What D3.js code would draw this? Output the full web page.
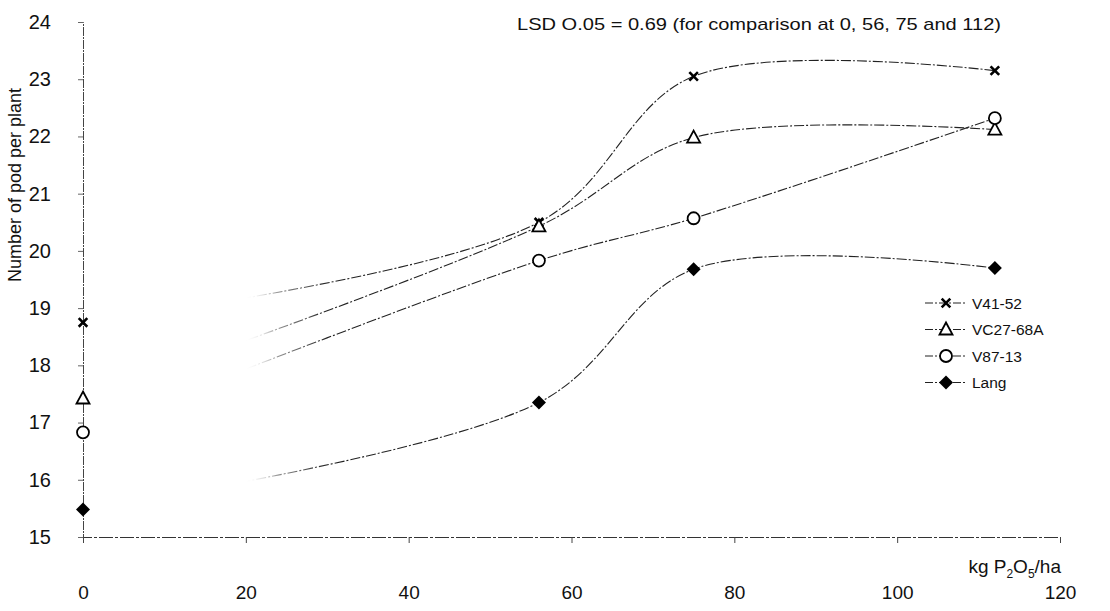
<!DOCTYPE html>
<html>
<head>
<meta charset="utf-8">
<script src="https://cdn.jsdelivr.net/npm/d3@7"></script>
<style>
  body { margin: 0; background: #fff; }
  svg { font-family: "Liberation Sans", Arial, sans-serif; }
</style>
</head>
<body>
<script>
// P rates (kg P2O5/ha) where the varieties were measured
var rates = [0, 56, 75, 112];

// number of pods per plant
var v4152 = [18.75, 20.5, 23.05, 23.15];
var vc2768a = [17.42, 20.43, 21.98, 22.12];
var v8713 = [16.83, 19.83, 20.57, 22.32];
var lang = [15.48, 17.35, 19.68, 19.7];

var seriesNames = ["V41-52", "VC27-68A", "V87-13", "Lang"];
var seriesSymbols = ["x", "triangle", "circle", "diamond"];

var xTicks = [0, 20, 40, 60, 80, 100, 120];
var yTicks = [15, 16, 17, 18, 19, 20, 21, 22, 23, 24];

var width = 1110, height = 611;

var x = d3.scaleLinear().domain([0, 120]).range([83, 1060]);
var y = d3.scaleLinear().domain([15, 24]).range([537, 22]);

var svg = d3.select("body").append("svg")
    .attr("width", width)
    .attr("height", height);

// lines fade out towards the y axis like on the scanned page
var defs = svg.append("defs");
var grad = defs.append("linearGradient")
    .attr("id", "fade")
    .attr("gradientUnits", "userSpaceOnUse")
    .attr("x1", x(0)).attr("x2", x(30))
    .attr("y1", 0).attr("y2", 0);
grad.append("stop").attr("offset", "0").attr("stop-color", "#fff").attr("stop-opacity", 0);
grad.append("stop").attr("offset", "0.66").attr("stop-color", "#fff").attr("stop-opacity", 0);
grad.append("stop").attr("offset", "0.8").attr("stop-color", "#444").attr("stop-opacity", 0.6);
grad.append("stop").attr("offset", "1").attr("stop-color", "#222").attr("stop-opacity", 1);

// y axis
var yAxis = d3.axisLeft(y).tickValues(yTicks).tickSize(5).tickPadding(27);
var gy = svg.append("g").attr("transform", "translate(" + x(0) + ",0)").call(yAxis);
gy.select(".domain").attr("stroke", "#444").attr("stroke-dasharray", "9,1,2,1");
gy.selectAll(".tick line").attr("stroke", "#666");
gy.selectAll(".tick text").attr("font-size", 20).attr("fill", "#111")
    .attr("font-family", "'Liberation Sans', Arial, sans-serif");

// x axis
var xAxis = d3.axisBottom(x).tickValues(xTicks).tickSize(6).tickPadding(43);
var gx = svg.append("g").attr("transform", "translate(0," + y(15) + ")").call(xAxis);
gx.select(".domain").attr("stroke", "#333").attr("stroke-dasharray", "14,2,3,2");
gx.selectAll(".tick line").attr("stroke", "#444");
gx.selectAll(".tick text").attr("font-size", 19).attr("fill", "#111")
    .attr("font-family", "'Liberation Sans', Arial, sans-serif");

// axis titles
svg.append("text")
    .attr("transform", "translate(21,185) rotate(-90)")
    .attr("text-anchor", "middle")
    .attr("font-size", 18)
    .attr("fill", "#111")
    .text("Number of pod per plant");

var xt = svg.append("text")
    .attr("x", 1061).attr("y", 573)
    .attr("text-anchor", "end")
    .attr("font-size", 19)
    .attr("fill", "#111");
xt.append("tspan").text("kg P");
xt.append("tspan").attr("font-size", 12).attr("dy", 5).text("2");
xt.append("tspan").attr("dy", -5).text("O");
xt.append("tspan").attr("font-size", 12).attr("dy", 5).text("5");
xt.append("tspan").attr("dy", -5).text("/ha");

svg.append("text")
    .attr("x", 517).attr("y", 30)
    .attr("font-size", 17)
    .attr("textLength", 484)
    .attr("lengthAdjust", "spacingAndGlyphs")
    .attr("fill", "#111")
    .text("LSD O.05 = 0.69 (for comparison at 0, 56, 75 and 112)");

var data = [v4152, vc2768a, v8713, lang].map(function(vals, i) {
    return {
        name: seriesNames[i],
        symbol: seriesSymbols[i],
        points: vals.map(function(v, j) { return [rates[j], v]; })
    };
});

var line = d3.line()
    .x(function(d) { return x(d[0]); })
    .y(function(d) { return y(d[1]); })
    .curve(d3.curveCatmullRom.alpha(0.5));

svg.append("g").selectAll("path")
    .data(data)
    .enter().append("path")
    .attr("d", function(d) { return line(d.points); })
    .attr("fill", "none")
    .attr("stroke", "url(#fade)")
    .attr("stroke-width", 1.1)
    .attr("stroke-dasharray", "10,2,2,2");

function drawSymbol(g, type, cx, cy) {
    if (type === "x") {
        g.append("path")
            .attr("d", d3.symbol().type(d3.symbolTimes).size(50)())
            .attr("transform", "translate(" + cx + "," + cy + ")")
            .attr("fill", "none").attr("stroke", "#000").attr("stroke-width", 2.6);
    } else if (type === "triangle") {
        g.append("path")
            .attr("d", "M0,-7L6.5,5L-6.5,5Z")
            .attr("transform", "translate(" + cx + "," + cy + ")")
            .attr("fill", "#fff").attr("stroke", "#000").attr("stroke-width", 1.8);
    } else if (type === "circle") {
        g.append("circle")
            .attr("cx", cx).attr("cy", cy).attr("r", 6)
            .attr("fill", "#fff").attr("stroke", "#000").attr("stroke-width", 1.8);
    } else {
        g.append("path")
            .attr("d", "M0,-7L7,0L0,7L-7,0Z")
            .attr("transform", "translate(" + cx + "," + cy + ")")
            .attr("fill", "#000");
    }
}

var marks = svg.append("g");
data.forEach(function(s) {
    s.points.forEach(function(p) {
        drawSymbol(marks, s.symbol, x(p[0]), y(p[1]));
    });
});

// legend
var legend = svg.append("g").attr("transform", "translate(925,303)");
data.forEach(function(s, i) {
    var row = legend.append("g").attr("transform", "translate(0," + (i * 26.5) + ")");
    row.append("line")
        .attr("x1", 0).attr("x2", 42).attr("y1", 0).attr("y2", 0)
        .attr("stroke", "#222").attr("stroke-width", 1.1)
        .attr("stroke-dasharray", "8,2,2,2");
    drawSymbol(row, s.symbol, 21, 0);
    row.append("text")
        .attr("x", 47).attr("y", 5.5)
        .attr("font-size", 15.5)
        .attr("fill", "#111")
        .text(s.name);
});
</script>
</body>
</html>
